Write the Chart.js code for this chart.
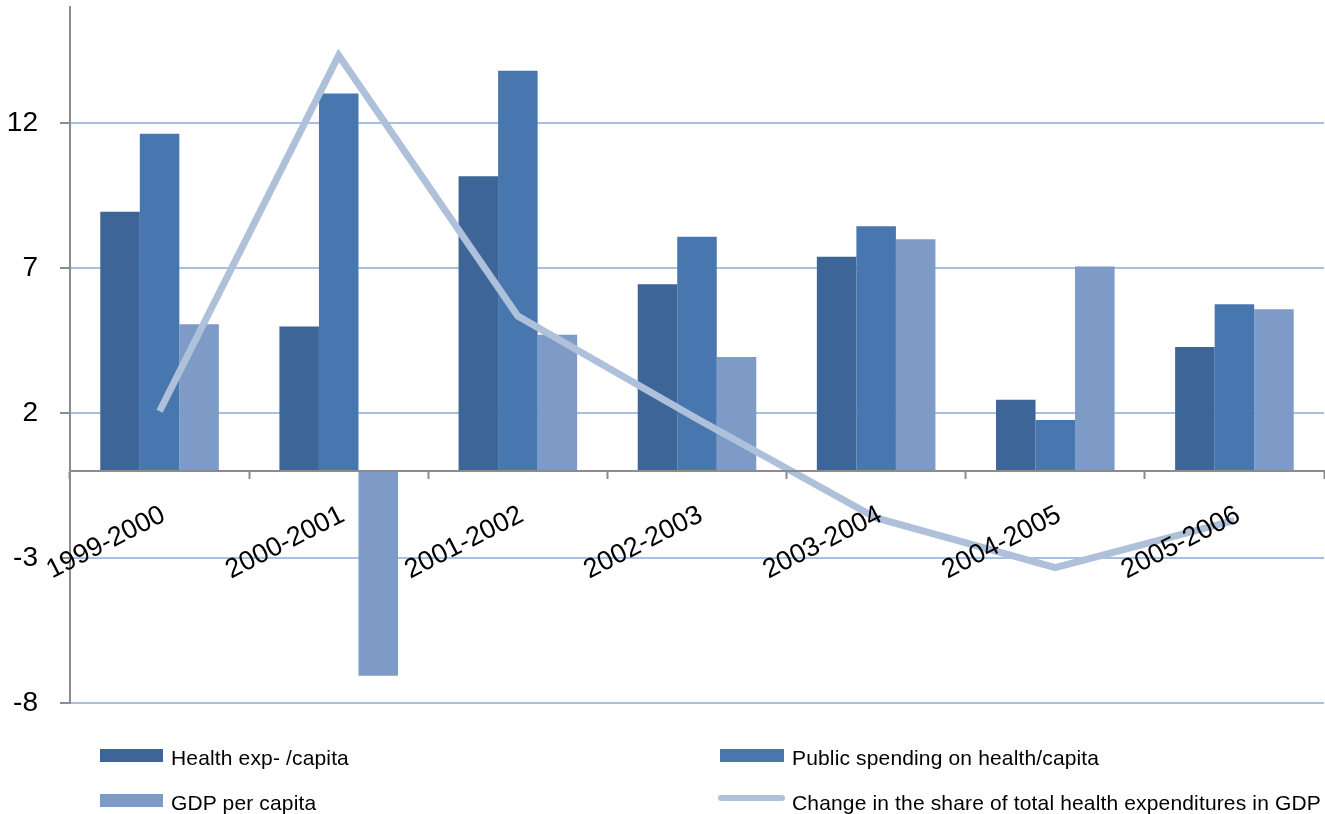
<!DOCTYPE html>
<html>
<head>
<meta charset="utf-8">
<script src="https://cdn.jsdelivr.net/npm/chart.js@4.4.1/dist/chart.umd.min.js"></script>
<style>
html,body{margin:0;padding:0;background:#ffffff;}
#wrap{position:relative;width:1325px;height:814px;overflow:hidden;}
#c{position:absolute;left:0;top:0;}
.lgtext{position:absolute;font-family:"Liberation Sans",Arial,sans-serif;font-size:21px;line-height:21px;letter-spacing:0.15px;color:#000;white-space:nowrap;}
.lgkey{position:absolute;}
</style>
</head>
<body>
<div id="wrap">
  <canvas id="c" width="1325" height="814"></canvas>
  <div id="legend"></div>
</div>
<script>
// ---- data ----
const categories = ["1999-2000","2000-2001","2001-2002","2002-2003","2003-2004","2004-2005","2005-2006"];
const healthExpPerCapita = [8.94, 4.98, 10.16, 6.44, 7.39, 2.46, 4.28];
const publicSpendingPerCapita = [11.63, 13.02, 13.80, 8.08, 8.44, 1.76, 5.75];
const gdpPerCapita = [5.06, -7.06, 4.70, 3.93, 7.99, 7.05, 5.58];
const shareChangeInGdp = [2.06, 14.33, 5.34, 1.80, -1.62, -3.33, -1.70];
const seriesNames = ["Health exp- /capita","Public spending on health/capita","GDP per capita","Change in the share of total health expenditures in GDP"];
const yTickValues = [-8, -3, 2, 7, 12];
const yMin = -8, yMax = 16;

// ---- styles ----
const colors = ["#3d6597", "#4877b0", "#7e9bc7", "#afc0da"];
const FONT = '"Liberation Sans", Arial, sans-serif';

const ctx = document.getElementById('c').getContext('2d');
new Chart(ctx, {
  type: 'bar',
  data: {
    labels: categories,
    datasets: [
      { type: 'line', label: seriesNames[3], data: shareChangeInGdp, borderColor: colors[3], backgroundColor: colors[3],
        borderWidth: 7, pointRadius: 0, pointHoverRadius: 0, tension: 0, fill: false, order: 0, borderJoinStyle: 'miter' },
      { label: seriesNames[0], data: healthExpPerCapita, backgroundColor: colors[0], order: 1 },
      { label: seriesNames[1], data: publicSpendingPerCapita, backgroundColor: colors[1], order: 1 },
      { label: seriesNames[2], data: gdpPerCapita, backgroundColor: colors[2], order: 1 }
    ]
  },
  options: {
    responsive: false,
    animation: false,
    devicePixelRatio: 1,
    layout: { padding: { left: 0, top: 7, right: 1, bottom: 111 } },
    datasets: { bar: { categoryPercentage: 0.662, barPercentage: 1.0, borderWidth: 0 } },
    plugins: { legend: { display: false }, tooltip: { enabled: false } },
    scales: {
      x: {
        position: { y: 0 },
        offset: true,
        grid: { display: true, drawOnChartArea: false, drawTicks: true, tickLength: 7, tickColor: '#8c8c8c', tickWidth: 2, offset: true, z: 1 },
        border: { display: true, color: '#8c8c8c', width: 2, z: 1 },
        ticks: { autoSkip: false, minRotation: 27, maxRotation: 27, padding: 21, labelOffset: 4, color: '#000', z: 2,
                 font: { family: FONT, size: 27 } }
      },
      y: {
        min: yMin, max: yMax,
        afterBuildTicks: (s) => { s.ticks = yTickValues.map(v => ({ value: v })); },
        afterFit: (s) => { s.width = 70; s.paddingTop = 0; s.paddingBottom = 0; },
        grid: { color: '#a8c0df', lineWidth: 2, tickColor: '#8c8c8c', tickLength: 10, tickWidth: 2 },
        border: { display: true, color: '#8c8c8c', width: 2 },
        ticks: { padding: 22, color: '#000', font: { family: FONT, size: 28 } }
      }
    }
  }
});

// ---- legend (HTML, real text) ----
const legendSlots = [
  { key: 'box', kx: 100, ky: 749, kw: 63, kh: 13, tx: 171, ty: 747 },
  { key: 'box', kx: 720, ky: 749, kw: 64, kh: 13, tx: 792, ty: 747 },
  { key: 'box', kx: 100, ky: 794, kw: 63, kh: 13, tx: 171, ty: 792 },
  { key: 'line', kx: 718, ky: 795, kw: 67, kh: 6, tx: 792, ty: 792 }
];
const legendEl = document.getElementById('legend');
seriesNames.forEach((name, i) => {
  const s = legendSlots[i];
  const k = document.createElement('div');
  k.className = 'lgkey';
  k.style.left = s.kx + 'px'; k.style.top = s.ky + 'px';
  k.style.width = s.kw + 'px'; k.style.height = s.kh + 'px';
  k.style.background = colors[i];
  if (s.key === 'line') k.style.borderRadius = '3px';
  legendEl.appendChild(k);
  const t = document.createElement('div');
  t.className = 'lgtext';
  t.style.left = s.tx + 'px'; t.style.top = s.ty + 'px';
  t.textContent = name;
  legendEl.appendChild(t);
});
</script>
</body>
</html>
